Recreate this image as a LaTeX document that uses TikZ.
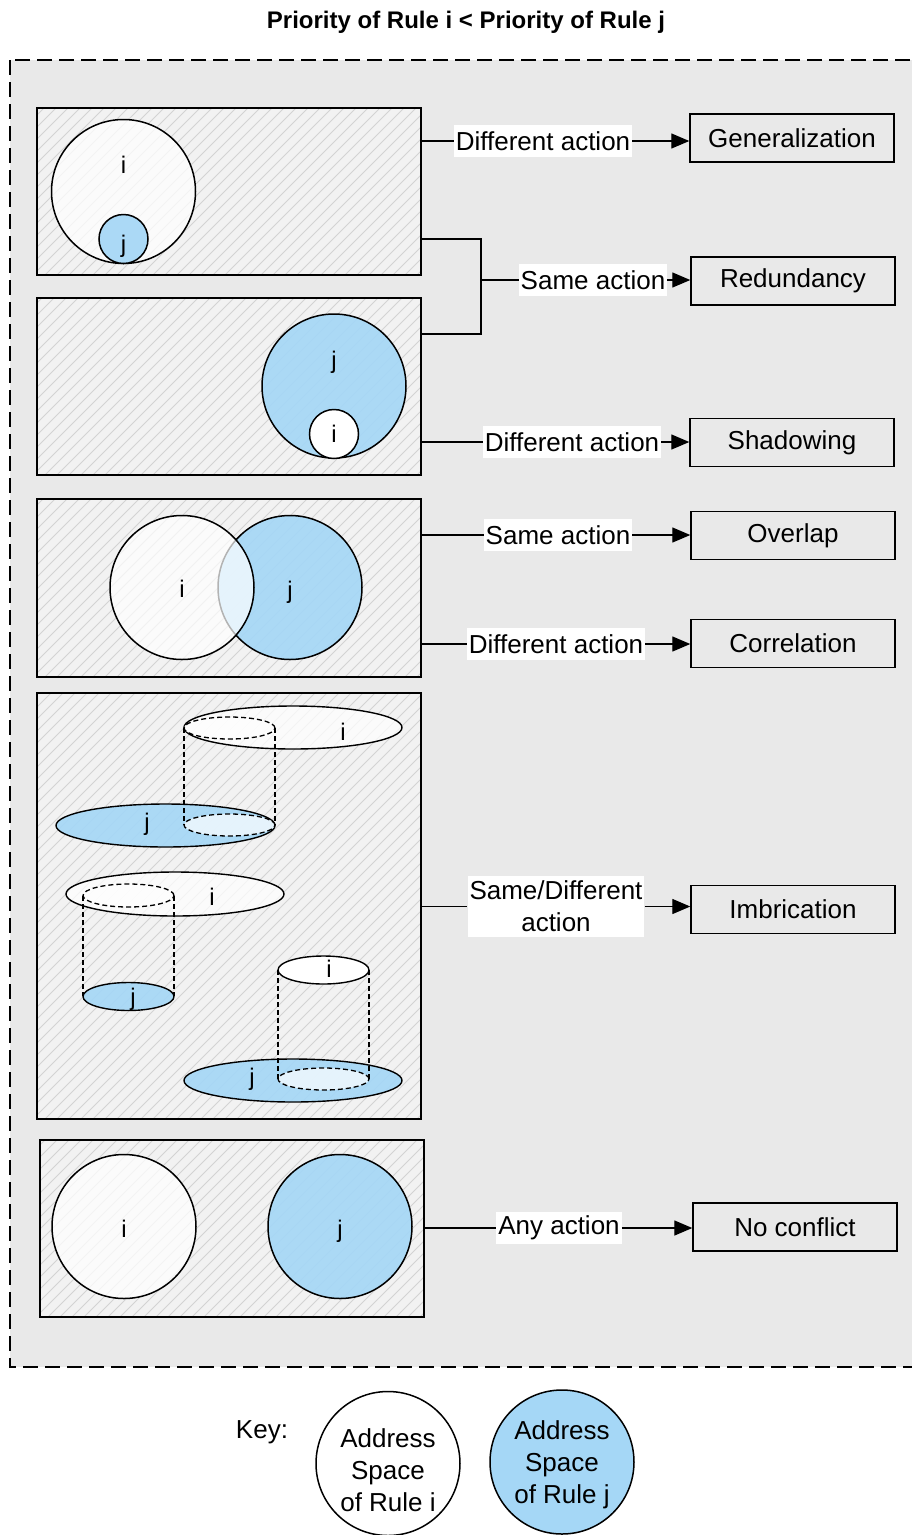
\documentclass[tikz,border=0pt]{standalone}
\usepackage{fontspec}
\setmainfont{Liberation Sans}
\usetikzlibrary{arrows.meta}

\definecolor{bggray}{HTML}{E9E9E9}
\definecolor{panelgray}{HTML}{F2F2F2}
\definecolor{hatchgray}{HTML}{D3D3D3}
\definecolor{ruleblue}{HTML}{A5D7F6}

\begin{document}
\begin{tikzpicture}[x=1pt,y=-1pt,
  every node/.style={font=\fontsize{26}{32}\selectfont},
  title/.style={font=\fontsize{24}{29}\selectfont\bfseries},
  panel/.style={draw, line width=1.6pt, fill=panelgray, inner sep=0pt, minimum width=384pt,
    path picture={\foreach \k in {-640,-628,...,640}{
      \draw[hatchgray, line width=1pt] ([xshift=\k pt]path picture bounding box.south west) -- ++(700pt,700pt);}}},
  wcirc/.style={circle, draw, line width=1.5pt, fill=white, fill opacity=0.75, draw opacity=1, inner sep=0pt},
  bcirc/.style={circle, draw, line width=1.5pt, fill=ruleblue, fill opacity=0.92, draw opacity=1, inner sep=0pt},
  keyw/.style={circle, draw, line width=1.5pt, fill=white, minimum size=144pt, inner sep=0pt, align=center},
  keyb/.style={circle, draw, line width=1.5pt, fill=ruleblue, minimum size=144pt, inner sep=0pt, align=center},
  tag/.style={font=\fontsize{24}{28}\selectfont, anchor=base, inner sep=0pt},
  outbox/.style={draw, line width=1.4pt, minimum width=204pt, minimum height=48pt, inner sep=0pt},
  lab/.style={fill=white, inner xsep=2pt, inner ysep=0pt, minimum height=32pt, align=center},
  conn/.style={line width=1.3pt},
  arr/.style={-{Triangle[length=18pt,width=15pt]}},
  wdisc/.style={draw, line width=1.4pt, fill=white, fill opacity=0.75, draw opacity=1},
  bdisc/.style={draw, line width=1.4pt, fill=ruleblue, fill opacity=0.92, draw opacity=1},
  hole/.style={draw, line width=1.3pt, dash pattern=on 5pt off 3pt, fill=white, fill opacity=0.7, draw opacity=1},
  wall/.style={line width=1.2pt, dash pattern=on 5pt off 3pt}
]
\useasboundingbox (0,0) rectangle (912,1535);
\fill[white] (0,0) rectangle (912,1535);

% title and dashed frame
\node[title] (ttl) at (466,22) {Priority of Rule i < Priority of Rule j};
\draw[fill=bggray, line width=1.6pt, dash pattern=on 15pt off 7pt] (10,60) rectangle (935,1367);

% panels
\node[panel, minimum height=167pt] (p1) at (229,191.5) {};
\node[panel, minimum height=177pt] (p2) at (229,386.5) {};
\node[panel, minimum height=178pt] (p3) at (229,588) {};
\node[panel, minimum height=426pt] (p4) at (229,906) {};
\node[panel, minimum height=177pt] (p5) at (232,1228.5) {};

% panel 1: j inside i
\node[wcirc, minimum size=144pt] (c1i) at (123.5,191.5) {};
\node[bcirc, minimum size=49pt] (c1j) at (123.5,239) {};
\node[tag] (t1i) at (123.5,173) {i};
\node[tag] (t1j) at (123.5,252) {j};

% panel 2: i inside j
\node[bcirc, minimum size=144pt] (c2j) at (334,386) {};
\node[wcirc, fill opacity=1, minimum size=49pt] (c2i) at (334,434) {};
\node[tag] (t2j) at (334,368) {j};
\node[tag] (t2i) at (334,442) {i};

% panel 3: i and j overlap
\node[bcirc, minimum size=144pt] (c3j) at (290,587.5) {};
\node[wcirc, fill opacity=0.7, minimum size=144pt] (c3i) at (182,587.5) {};
\node[tag] (t3i) at (182,597) {i};
\node[tag] (t3j) at (290,598) {j};

% panel 4: imbrication, first pair
\path[bdisc] (165.5,825.5) ellipse [x radius=109.5pt, y radius=21.5pt];
\path[wdisc] (293,727.5) ellipse [x radius=109pt, y radius=21.5pt];
\path[hole] (229.5,728) ellipse [x radius=45.5pt, y radius=11pt];
\path[hole] (229.5,825) ellipse [x radius=45.5pt, y radius=11pt];
\draw[wall] (184,728) -- (184,825);
\draw[wall] (275,728) -- (275,825);
\node[tag] (t4a) at (343,740) {i};
\node[tag] (t4b) at (147,830) {j};

% panel 4: second pair
\path[wdisc] (175,894) ellipse [x radius=109pt, y radius=22pt];
\path[hole] (128.5,895.5) ellipse [x radius=45.5pt, y radius=11.5pt];
\draw[wall] (83,896) -- (83,996);
\draw[wall] (174,896) -- (174,996);
\path[bdisc] (128.5,996.5) ellipse [x radius=45.5pt, y radius=14pt];
\node[tag] (t4c) at (212,905) {i};
\node[tag] (t4d) at (133,1005) {j};

% panel 4: third pair
\path[bdisc] (293,1080.5) ellipse [x radius=109pt, y radius=21.5pt];
\path[hole] (323.5,1079) ellipse [x radius=45.5pt, y radius=11pt];
\draw[wall] (278,970) -- (278,1079);
\draw[wall] (369,970) -- (369,1079);
\path[wdisc, fill opacity=1] (323.5,970) ellipse [x radius=45.5pt, y radius=14pt];
\node[tag] (t4e) at (329,977) {i};
\node[tag] (t4f) at (252,1085) {j};

% panel 5: disjoint
\node[wcirc, minimum size=144pt] (c5i) at (124,1226.5) {};
\node[bcirc, minimum size=144pt] (c5j) at (340,1226.5) {};
\node[tag] (t5i) at (124,1237) {i};
\node[tag] (t5j) at (340,1237) {j};

% outcome boxes
\node[outbox] (gen) at (792,138) {Generalization};
\node[outbox] (red) at (793,281) {Redundancy};
\node[outbox] (sha) at (792,442.5) {Shadowing};
\node[outbox] (ovl) at (793,535.5) {Overlap};
\node[outbox] (cor) at (793,643.5) {Correlation};
\node[outbox] (imb) at (793,909.5) {Imbrication};
\node[outbox] (noc) at (795,1227) {No conflict};

% connector labels
\node[lab] (l1) at (543,141) {Different action};
\node[lab] (l2) at (593,280) {Same action};
\node[lab] (l3) at (572,442) {Different action};
\node[lab] (l4) at (558,535) {Same action};
\node[lab] (l5) at (556,644) {Different action};
\node[lab, minimum height=61pt] (l6) at (556,906.5) {Same/Different\\action};
\node[lab] (l7) at (559,1228) {Any action};

% connectors
\draw[conn] (p1.east |- l1.west) -- (l1.west);
\draw[conn, arr] (l1.east) -- (l1.east -| gen.west);

\coordinate (rt) at (481,239);
\coordinate (rb) at (481,334);
\coordinate (rm) at (481,280);
\draw[conn] (p1.east |- rt) -- (rt) -- (rb) -- (p2.east |- rb);
\draw[conn] (rm) -- (l2.west);
\draw[conn, arr] (l2.east) -- (l2.east -| red.west);

\draw[conn] (p2.east |- l3.west) -- (l3.west);
\draw[conn, arr] (l3.east) -- (l3.east -| sha.west);

\draw[conn] (p3.east |- l4.west) -- (l4.west);
\draw[conn, arr] (l4.east) -- (l4.east -| ovl.west);

\draw[conn] (p3.east |- l5.west) -- (l5.west);
\draw[conn, arr] (l5.east) -- (l5.east -| cor.west);

\draw[conn] (p4.east |- l6.west) -- (l6.west);
\draw[conn, arr] (l6.east) -- (l6.east -| imb.west);

\draw[conn] (p5.east |- l7.west) -- (l7.west);
\draw[conn, arr] (l7.east) -- (l7.east -| noc.west);

% key
\node (key) at (262,1432) {Key:};
\node[keyw] (kw) at (388,1463.5) {};
\node[align=center] (kwt) at (388,1470) {Address\\Space\\of Rule i};
\node[keyb] (kb) at (562,1462) {};
\node[align=center] (kbt) at (562,1465) {Address\\Space\\of Rule j};
\end{tikzpicture}
\end{document}
